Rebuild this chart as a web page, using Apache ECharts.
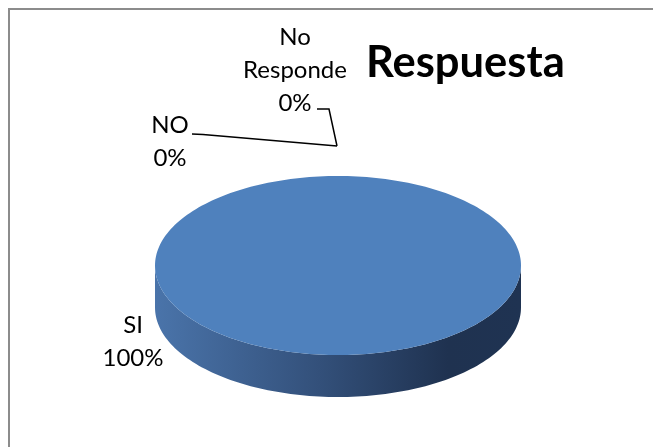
<!DOCTYPE html>
<html>
<head>
<meta charset="utf-8">
<script src="https://cdn.jsdelivr.net/npm/echarts@6/dist/echarts.min.js"></script>
<style>html,body{margin:0;padding:0;background:#fff}#c{width:653px;height:447px}</style>
</head>
<body>
<div id="c"></div>
<script>
// ---- data ----
const categories = ['SI', 'NO', 'No Responde'];
const values = [100, 0, 0];
const title = 'Respuesta';

// ---- layout / style (not data) ----
const PIE = { cx: 338, cy: 265.5, rx: 183, ry: 89.5, depth: 42 };
const LABEL_FONT = '24px Lato';
const labelLayout = [
  { x: 133, y0: 325, leader: null },
  { x: 170, y0: 125, leader: [[192, 134], [203, 134.5], [337, 146]] },
  { x: 295, y0: 37, leader: [[317, 109], [329, 109], [337, 146]] }
];
const LINE_STEP = 33;

const total = values.reduce((a, b) => a + b, 0);
const cum = [];
values.reduce((acc, v, i) => { cum[i] = acc; return acc + v; }, 0);

function pt(deg, dy) {
  const r = deg * Math.PI / 180;
  return [PIE.cx + PIE.rx * Math.cos(r), PIE.cy + PIE.ry * Math.sin(r) + (dy || 0)];
}

function renderItem(params, api) {
  const i = params.dataIndex;
  const v = api.value(0);
  const a0 = -90 + 360 * cum[i] / total;
  const a1 = a0 + 360 * v / total;
  const children = [];
  if (v > 0) {
    [[0, 180], [360, 540]].forEach(([lo, hi]) => {
      const s = Math.max(a0, lo), e = Math.min(a1, hi);
      if (e > s) {
        const pts = [];
        const n = 120;
        for (let k = 0; k <= n; k++) pts.push(pt(s + (e - s) * k / n));
        for (let k = n; k >= 0; k--) pts.push(pt(s + (e - s) * k / n, PIE.depth));
        children.push({
          type: 'polygon',
          shape: { points: pts },
          style: {
            fill: new echarts.graphic.LinearGradient(0, 0, 1, 0, [
              { offset: 0, color: '#4a74aa' },
              { offset: 0.45, color: '#33507a' },
              { offset: 0.8, color: '#1f3250' },
              { offset: 1, color: '#1f3352' }
            ])
          }
        });
      }
    });
    const tp = [[PIE.cx, PIE.cy]];
    const n = 240;
    for (let k = 0; k <= n; k++) tp.push(pt(a0 + (a1 - a0) * k / n));
    children.push({
      type: 'polygon',
      shape: { points: tp },
      style: { fill: '#4f81bd' }
    });
  }
  const L = labelLayout[i];
  const pct = Math.round(v / total * 100) + '%';
  const lines = String(categories[i]).split(' ').concat([pct]);
  lines.forEach((t, k) => {
    children.push({
      type: 'text',
      z2: 10,
      style: {
        text: t, x: L.x, y: L.y0 + k * LINE_STEP,
        font: LABEL_FONT, fill: '#000',
        align: 'center', verticalAlign: 'middle'
      }
    });
  });
  if (L.leader) {
    children.push({
      type: 'polyline',
      shape: { points: L.leader },
      style: { stroke: '#000', lineWidth: 1.5, fill: null }
    });
  }
  return { type: 'group', children };
}

const chart = echarts.init(document.getElementById('c'), null, { renderer: 'canvas' });
chart.setOption({
  animation: false,
  backgroundColor: '#fff',
  title: {
    text: title, left: 361, top: 36,
    textStyle: { fontFamily: 'Lato', fontWeight: 'bold', fontSize: 43.5, color: '#000' }
  },
  graphic: [{
    type: 'rect', shape: { x: 9, y: 9, width: 800, height: 600 },
    style: { fill: null, stroke: '#8c8c8c', lineWidth: 2 }, silent: true
  }],
  series: [{
    type: 'custom',
    coordinateSystem: 'none',
    renderItem: renderItem,
    data: categories.map((c, i) => ({ name: c, value: [values[i]] }))
  }]
});
</script>
</body>
</html>
